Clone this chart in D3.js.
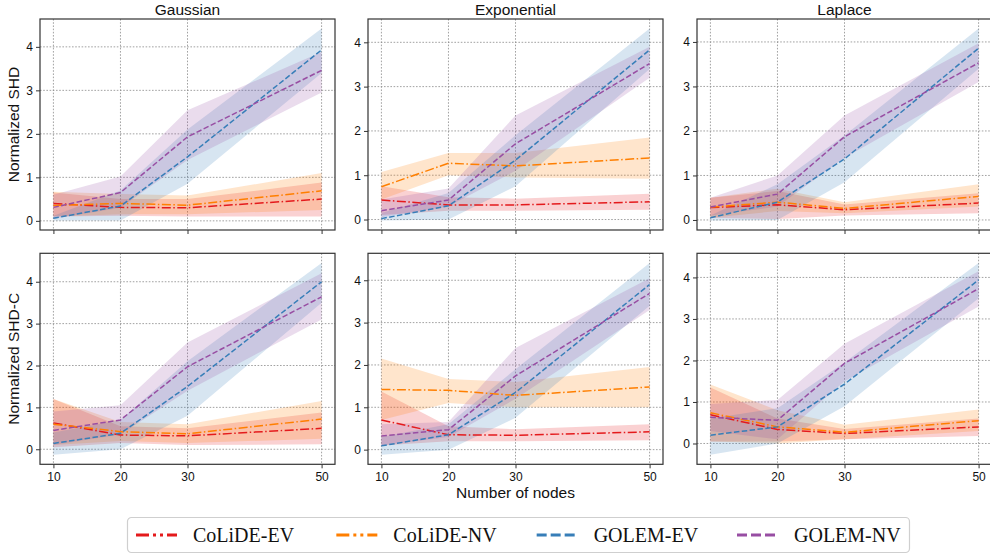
<!DOCTYPE html>
<html>
<head>
<meta charset="utf-8">
<script src="https://cdn.jsdelivr.net/npm/d3@7"></script>
<style>
  body { margin: 0; background: #fff; }
  svg { display: block; font-family: "Liberation Sans", Arial, sans-serif; }
</style>
</head>
<body>
<div id="chart"></div>
<script>
const nodes = [10, 20, 30, 50];
const methods = ["CoLiDE-EV", "CoLiDE-NV", "GOLEM-EV", "GOLEM-NV"];
const noises = ["Gaussian", "Exponential", "Laplace"];
const metrics = ["Normalized SHD", "Normalized SHD-C"];

// [noise][method][node]
const shdMean = [
  [[0.40, 0.31, 0.30, 0.50], [0.35, 0.40, 0.36, 0.69], [0.06, 0.34, 1.47, 3.93], [0.31, 0.65, 1.93, 3.46]],
  [[0.44, 0.33, 0.33, 0.40], [0.74, 1.27, 1.21, 1.39], [0.02, 0.31, 1.34, 3.83], [0.20, 0.44, 1.71, 3.52]],
  [[0.28, 0.34, 0.23, 0.38], [0.29, 0.40, 0.26, 0.53], [0.05, 0.40, 1.37, 3.86], [0.29, 0.58, 1.87, 3.53]]
];
const shdLow = [
  [[0.10, 0.12, 0.10, 0.10], [0.10, 0.15, 0.15, 0.25], [0.01, 0.01, 0.85, 3.40], [0.05, 0.30, 1.40, 2.95]],
  [[0.10, 0.20, 0.20, 0.22], [0.45, 1.00, 0.95, 0.92], [-0.02, 0.00, 0.75, 3.40], [0.05, 0.30, 1.10, 3.20]],
  [[0.05, 0.02, 0.10, 0.15], [0.05, 0.20, 0.15, 0.30], [-0.01, 0.00, 0.85, 3.40], [0.10, 0.30, 1.40, 3.10]]
];
const shdHigh = [
  [[0.65, 0.50, 0.50, 0.88], [0.67, 0.62, 0.58, 1.10], [0.12, 0.70, 2.10, 4.42], [0.60, 1.02, 2.54, 3.88]],
  [[0.75, 0.50, 0.47, 0.58], [1.07, 1.50, 1.50, 1.85], [0.15, 0.60, 1.90, 4.31], [0.45, 0.70, 2.35, 3.90]],
  [[0.50, 0.65, 0.35, 0.60], [0.50, 0.70, 0.40, 0.80], [0.10, 0.80, 1.90, 4.30], [0.50, 1.00, 2.35, 3.97]]
];
const shdcMean = [
  [[0.63, 0.34, 0.32, 0.50], [0.60, 0.42, 0.37, 0.72], [0.14, 0.38, 1.50, 4.00], [0.45, 0.70, 1.97, 3.64]],
  [[0.70, 0.35, 0.34, 0.42], [1.42, 1.40, 1.28, 1.48], [0.09, 0.35, 1.35, 3.90], [0.32, 0.47, 1.74, 3.69]],
  [[0.69, 0.34, 0.24, 0.40], [0.74, 0.40, 0.27, 0.55], [0.20, 0.40, 1.43, 3.94], [0.63, 0.56, 1.93, 3.73]]
];
const shdcLow = [
  [[0.05, 0.15, 0.10, 0.12], [0.10, 0.20, 0.15, 0.25], [-0.13, 0.00, 0.80, 3.50], [0.10, 0.35, 1.40, 3.10]],
  [[0.10, 0.20, 0.20, 0.22], [0.70, 1.10, 1.00, 1.00], [-0.12, 0.00, 0.75, 3.40], [0.10, 0.30, 1.20, 3.30]],
  [[0.05, 0.05, 0.10, 0.18], [0.05, 0.00, 0.10, 0.30], [-0.27, 0.00, 0.90, 3.50], [0.30, 0.10, 1.50, 3.30]]
];
const shdcHigh = [
  [[1.20, 0.55, 0.50, 0.88], [1.20, 0.65, 0.60, 1.15], [0.40, 0.70, 2.10, 4.45], [0.90, 1.05, 2.55, 4.20]],
  [[1.37, 0.55, 0.48, 0.60], [2.15, 1.67, 1.60, 1.95], [0.30, 0.60, 1.90, 4.41], [0.60, 0.65, 2.40, 4.05]],
  [[1.35, 0.60, 0.35, 0.60], [1.42, 0.80, 0.45, 0.82], [0.60, 0.85, 1.95, 4.35], [0.95, 1.05, 2.40, 4.15]]
];

const colors = ["#e41a1c", "#ff7f00", "#377eb8", "#984ea3"];
const dashes = ["9,2.5,1.5,2.5", "9,2.5,1.5,2.5", "5.5,2.4", "5.5,2.4"];
const legendDashes = ["13,4,3,4,3,4", "13,4,3,4,3,4", "10,4", "10,4"];

const W = 990, H = 556;
const colX = [40, 368, 697], panelW = 295;
const rowY = [19, 253.3], panelH = 211;

const svg = d3.select('#chart').append('svg')
    .attr('width', W).attr('height', H);

const xPad = (d3.max(nodes) - d3.min(nodes)) * 0.05;
const rows = [[shdMean, shdLow, shdHigh], [shdcMean, shdcLow, shdcHigh]];

rows.forEach(([mean, low, high], r) => {
  noises.forEach((noise, c) => {
    const g = svg.append('g')
        .attr('transform', `translate(${colX[c]}, ${rowY[r]})`);

    const x = d3.scaleLinear()
        .domain([d3.min(nodes) - xPad, d3.max(nodes) + xPad])
        .range([0, panelW]);
    const lo = d3.min(low[c].flat()), hi = d3.max(high[c].flat());
    const yPad = (hi - lo) * 0.05;
    const y = d3.scaleLinear().domain([lo - yPad, hi + yPad]).range([panelH, 0]);

    // grid
    g.append('g').selectAll('line').data(nodes).enter().append('line')
        .attr('x1', d => x(d)).attr('x2', d => x(d))
        .attr('y1', 0).attr('y2', panelH)
        .attr('stroke', '#8a8a8a').attr('stroke-width', 0.8)
        .attr('stroke-dasharray', '1.6,1.6');
    g.append('g').selectAll('line').data(y.ticks(5)).enter().append('line')
        .attr('x1', 0).attr('x2', panelW)
        .attr('y1', d => y(d)).attr('y2', d => y(d))
        .attr('stroke', '#8a8a8a').attr('stroke-width', 0.8)
        .attr('stroke-dasharray', '1.6,1.6');

    // bands
    const area = d3.area()
        .x((d, i) => x(nodes[i]))
        .y0(d => y(d[0]))
        .y1(d => y(d[1]));
    methods.forEach((m, k) => {
      const pts = nodes.map((n, i) => [low[c][k][i], high[c][k][i]]);
      g.append('path').datum(pts)
          .attr('fill', colors[k]).attr('fill-opacity', 0.2)
          .attr('d', area);
    });

    // lines
    const line = d3.line()
        .x((d, i) => x(nodes[i]))
        .y(d => y(d));
    methods.forEach((m, k) => {
      g.append('path').datum(mean[c][k])
          .attr('fill', 'none')
          .attr('stroke', colors[k])
          .attr('stroke-width', 1.5)
          .attr('stroke-dasharray', dashes[k])
          .attr('d', line);
    });

    // axes
    const xAxis = d3.axisBottom(x).tickValues(nodes).tickSize(4).tickPadding(4)
        .tickFormat(r === 1 ? d3.format('d') : '');
    const gx = g.append('g').attr('transform', `translate(0, ${panelH})`).call(xAxis);
    const gy = g.append('g').call(d3.axisLeft(y).ticks(5).tickSize(4).tickPadding(3).tickFormat(d3.format('d')));
    [gx, gy].forEach(a => {
      a.select('.domain').remove();
      a.selectAll('line').attr('stroke', '#333').attr('stroke-width', 1);
      a.selectAll('text').attr('font-size', 12).attr('fill', '#111')
          .attr('font-family', '"Liberation Sans", Arial, sans-serif');
    });

    g.append('rect')
        .attr('width', panelW).attr('height', panelH)
        .attr('fill', 'none').attr('stroke', '#333').attr('stroke-width', 1.2);

    if (r === 0) {
      g.append('text')
          .attr('x', panelW / 2).attr('y', -4.5)
          .attr('text-anchor', 'middle').attr('font-size', 15.5).attr('fill', '#111')
          .text(noise);
    }
    if (c === 0) {
      g.append('text')
          .attr('transform', `translate(${-21}, ${panelH / 2}) rotate(-90)`)
          .attr('text-anchor', 'middle').attr('font-size', 15.5).attr('fill', '#111')
          .text(metrics[r]);
    }
    if (r === 1 && c === 1) {
      g.append('text')
          .attr('x', panelW / 2).attr('y', panelH + 34)
          .attr('text-anchor', 'middle').attr('font-size', 15.5).attr('fill', '#111')
          .text('Number of nodes');
    }
  });
});

// legend
const legend = svg.append('g').attr('transform', 'translate(127.5, 517.5)');
legend.append('rect')
    .attr('width', 782).attr('height', 35).attr('rx', 4)
    .attr('fill', '#fff').attr('stroke', '#cfcfcf').attr('stroke-width', 1.2);
const itemX = d3.scalePoint().domain(methods).range([8.5, 609.5]);
methods.forEach((m, k) => {
  const it = legend.append('g').attr('transform', `translate(${itemX(m)}, 17.5)`);
  it.append('line')
      .attr('x1', 0).attr('x2', 41)
      .attr('stroke', colors[k]).attr('stroke-width', 3)
      .attr('stroke-dasharray', legendDashes[k]);
  it.append('text')
      .attr('x', 57).attr('y', 6.5)
      .attr('font-family', '"Liberation Serif", "Times New Roman", serif')
      .attr('font-size', 20).attr('fill', '#111')
      .text(m);
});
</script>
</body>
</html>
